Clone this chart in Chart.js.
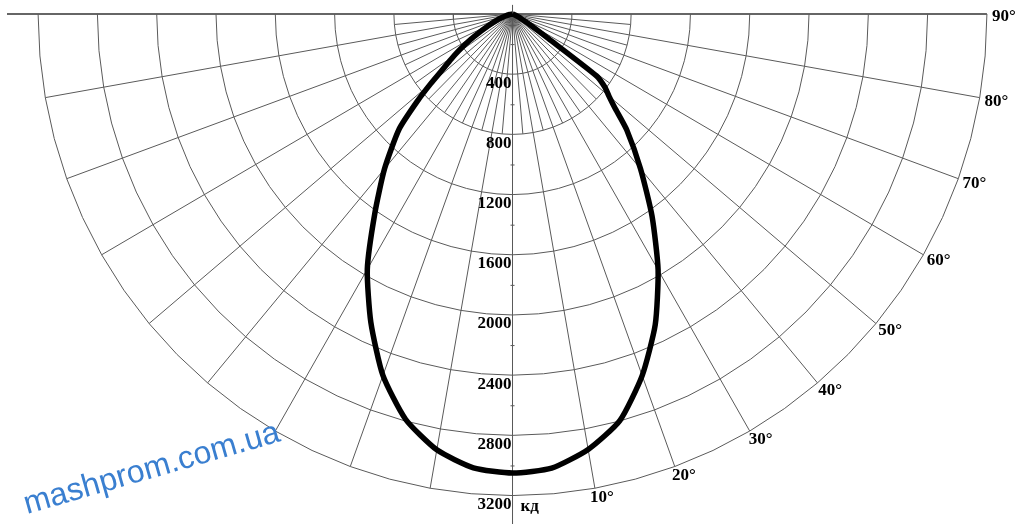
<!DOCTYPE html>
<html lang="ru">
<head>
<meta charset="UTF-8">
<title>КСС светильника</title>
<script src="https://cdn.jsdelivr.net/npm/chart.js@4.4.0/dist/chart.umd.min.js"></script>
<style>
  body { margin: 0; background: #fff; }
  #wrap { position: relative; width: 1024px; height: 524px; }
</style>
</head>
<body>
<div id="wrap"><canvas id="kss"></canvas></div>
<script>
// curve: angle from nadir (deg) -> intensity (cd)
const angles = [0, 5, 10, 15, 20, 25, 30, 35, 40, 45, 48, 50, 52, 54, 56, 58, 60, 65, 70, 75, 80, 90];
const intensityLeft = [3050, 3027, 2941, 2788, 2556, 2261, 1959, 1620, 1343, 1081, 860, 720, 597, 514, 439, 367, 300, 170, 100, 50, 20, 0];
const intensityRight = [3045, 3029, 2938, 2797, 2557, 2278, 1964, 1641, 1343, 1090, 926, 849, 791, 700, 290, 163, 100, 40, 10, 0, 0, 0];

// grid
const rings = [400, 800, 1200, 1600, 2000, 2400, 2800, 3200];
const ringLabels = ['400', '800', '1200', '1600', '2000', '2400', '2800', '3200'];
const spokes = [10, 20, 30, 40, 50, 60, 70, 80, 90];
const spokeLabels = ['10°', '20°', '30°', '40°', '50°', '60°', '70°', '80°', '90°'];
const innerSpokes = [5, 15, 25, 35, 45, 55, 65, 75, 85];
const unit = 'кд';
const watermark = 'mashprom.com.ua';

const rad = d => d * Math.PI / 180;
const pt = (deg, r) => ({ x: r * Math.sin(rad(deg)), y: -r * Math.cos(rad(deg)) });
const maxR = rings[rings.length - 1];
const gridColor = '#5a5a5a';

const datasets = [];

// the curve: left half from 90° down to 0, then right half up to 90°
const curve = [];
for (let i = angles.length - 1; i >= 0; i--) curve.push(pt(-angles[i], intensityLeft[i]));
for (let i = 1; i < angles.length; i++) curve.push(pt(angles[i], intensityRight[i]));
datasets.push({ data: curve, showLine: true, pointRadius: 0, borderColor: '#000', borderWidth: 5.5, tension: 0.2, order: 0 });

const gridLine = (data, w, c) => ({ data, showLine: true, pointRadius: 0, borderColor: c || gridColor, borderWidth: w || 1, tension: 0, order: 1 });

// rings
rings.forEach(r => {
  const d = [];
  for (let a = -90; a <= 90; a += 5) d.push(pt(a, r));
  datasets.push(gridLine(d));
});
// spokes every 10°
spokes.forEach(a => {
  if (a === 90) return;
  datasets.push(gridLine([pt(0, 0), pt(a, maxR)]));
  datasets.push(gridLine([pt(0, 0), pt(-a, maxR)]));
});
// short 5° spokes near the centre
innerSpokes.forEach(a => {
  datasets.push(gridLine([pt(0, 0), pt(a, rings[1])]));
  datasets.push(gridLine([pt(0, 0), pt(-a, rings[1])]));
});
// horizontal and vertical axes
datasets.push(gridLine([{ x: -3410, y: 0 }, { x: maxR, y: 0 }], 1.4, '#333'));
datasets.push(gridLine([{ x: 0, y: 60 }, { x: 0, y: -3400 }], 1));

const labels = {
  id: 'labels',
  afterDraw(chart) {
    const { ctx, scales: { x, y } } = chart;
    const px = p => [x.getPixelForValue(p.x), y.getPixelForValue(p.y)];
    ctx.save();
    ctx.fillStyle = '#000';
    ctx.font = 'bold 17px "Liberation Serif", "DejaVu Serif", serif';
    // ring values under the axis
    ctx.textAlign = 'right';
    ctx.textBaseline = 'middle';
    rings.forEach((r, i) => {
      const [cx, cy] = px(pt(0, r));
      ctx.fillText(ringLabels[i], cx - 1, cy + 9);
    });
    // minor ticks halfway between rings
    ctx.strokeStyle = gridColor;
    ctx.lineWidth = 1;
    rings.forEach(r => {
      const [cx, cy] = px(pt(0, r - 200));
      ctx.beginPath();
      ctx.moveTo(cx - 2, cy + 0.5);
      ctx.lineTo(cx + 2, cy + 0.5);
      ctx.stroke();
    });
    // unit
    ctx.textAlign = 'left';
    const [ux, uy] = px(pt(0, maxR));
    ctx.fillText(unit, ux + 8, uy + 11);
    // angle labels on the right side
    spokes.forEach((a, i) => {
      const [sx, sy] = px(pt(a, maxR));
      ctx.fillText(spokeLabels[i], sx - 7 + 12 * Math.sin(rad(a)), sy + 3 + 6 * Math.cos(rad(a)));
    });
    // watermark
    ctx.translate(27, 514);
    ctx.rotate(-rad(16));
    ctx.fillStyle = '#3a7fd0';
    ctx.font = '32px "Liberation Sans", Arial, sans-serif';
    ctx.textAlign = 'left';
    ctx.textBaseline = 'alphabetic';
    ctx.fillText(watermark, 0, 0);
    ctx.restore();
  }
};

new Chart(document.getElementById('kss'), {
  type: 'scatter',
  data: { datasets },
  options: {
    responsive: true,
    maintainAspectRatio: false,
    animation: false,
    layout: { padding: 0 },
    plugins: { legend: { display: false }, tooltip: { enabled: false } },
    scales: {
      x: { type: 'linear', display: false, min: -3457, max: 3450 },
      y: { type: 'linear', display: false, min: -3389, max: 93 }
    }
  },
  plugins: [labels]
});
</script>
</body>
</html>
